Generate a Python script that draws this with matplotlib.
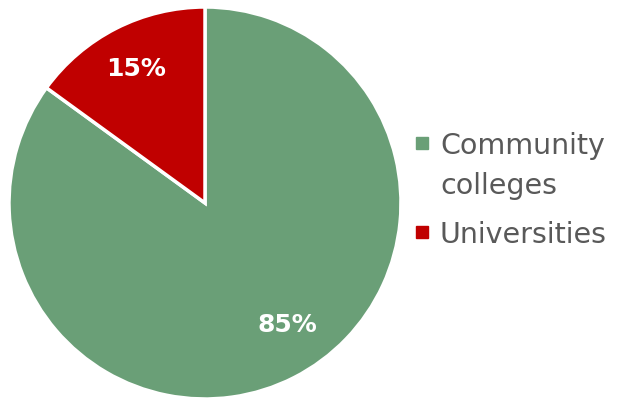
import matplotlib
matplotlib.use("Agg")
import matplotlib.pyplot as plt
from matplotlib.lines import Line2D

categories = ["Community\ncolleges", "Universities"]
values = [85, 15]
colors = ["#6a9f77", "#c00000"]

plt.rcParams['font.family'] = ['DejaVu Sans']

fig = plt.figure(figsize=(6.23, 3.99), dpi=100)
ax = fig.add_axes([(205 - 196) / 623, 0, 392 / 623, 392 / 399])
wedges, texts, autotexts = ax.pie(
    values, colors=colors, startangle=90, counterclock=False,
    autopct=lambda p: f"{p:.0f}%", pctdistance=0.77,
    wedgeprops=dict(edgecolor="white", linewidth=2.5),
    textprops=dict(color="white", fontsize=18, fontweight="bold"))
autotexts[0].set_position((0.42, -0.62))
ax.set_xlim(-1, 1)
ax.set_ylim(-1, 1)
ax.set_aspect("equal")
ax.axis("off")

# legend drawn manually so the marker aligns with the first text line
legend_y = [1 - 143 / 399, 1 - 232 / 399]
for cat, col, y in zip(categories, colors, legend_y):
    fig.add_artist(Line2D([422 / 623], [y], marker="s", markersize=9, linestyle="none",
                          markerfacecolor=col, markeredgecolor=col,
                          transform=fig.transFigure))
    for i, line in enumerate(cat.split("\n")):
        fig.text(440 / 623, y - i * 40 / 399, line, fontsize=20.5, color="#595959",
                 ha="left", va="center_baseline")
fig.savefig("out.png", dpi=100)
